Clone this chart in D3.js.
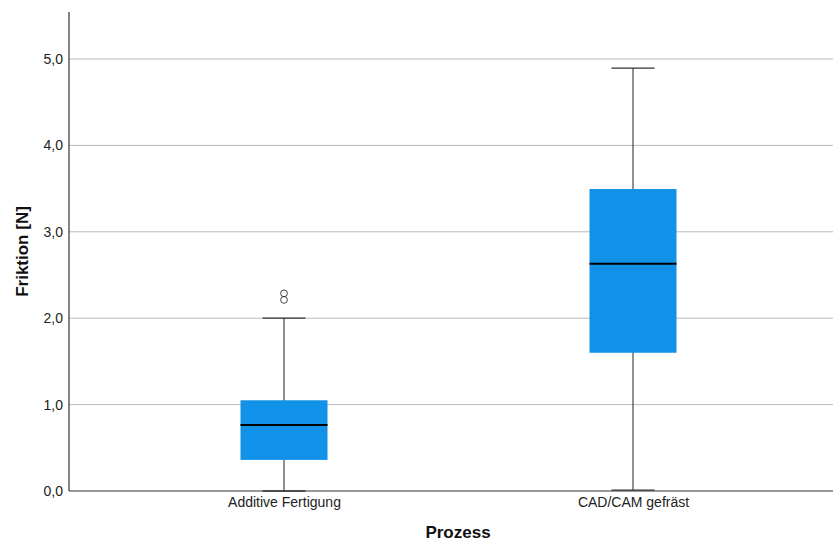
<!DOCTYPE html>
<html><head><meta charset="utf-8">
<script src="https://cdn.jsdelivr.net/npm/d3@7"></script>
<style>body{margin:0;background:#fff}svg{display:block}</style>
</head><body>
<script>
const categories = ["Additive Fertigung", "CAD/CAM gefräst"];
const whiskerLow = [0.0, 0.01];
const q1 = [0.36, 1.60];
const median = [0.765, 2.63];
const q3 = [1.05, 3.495];
const whiskerHigh = [2.0, 4.895];
const outliers = [[2.288, 2.212], []];
const yTicks = [0, 1, 2, 3, 4, 5];

const W = 834, H = 543;
const m = {left: 69, right: 1, top: 12, bottom: 52};
const svg = d3.select("body").append("svg").attr("width", W).attr("height", H);
const font = "'Liberation Sans', Arial, sans-serif";

const y = d3.scaleLinear().domain([0, 5.544]).range([H - m.bottom, m.top]);
const x = d3.scalePoint().domain(categories).range([284, 633]);
const boxW = 87, capW = 43;

// gridlines
svg.append("g").selectAll("line").data(yTicks.filter(d => d > 0)).join("line")
  .attr("x1", m.left).attr("x2", W - m.right)
  .attr("y1", d => y(d)).attr("y2", d => y(d))
  .attr("stroke", "#b8b8b8").attr("stroke-width", 1);

// y axis
const yAxis = svg.append("g").attr("transform", `translate(${m.left},0)`)
  .call(d3.axisLeft(y).tickValues(yTicks).tickSize(0).tickPadding(6)
    .tickFormat(d => d3.format(".1f")(d).replace(".", ",")));
yAxis.select(".domain").remove();
yAxis.selectAll("text").attr("font-family", font).attr("font-size", 14).attr("fill", "#222");

// x axis
const xAxis = svg.append("g").attr("transform", `translate(0,${y(0)})`)
  .call(d3.axisBottom(x).tickSize(0).tickPadding(6));
xAxis.select(".domain").remove();
xAxis.selectAll("text").attr("font-family", font).attr("font-size", 14).attr("fill", "#222");

const data = categories.map((c, i) => ({c, lo: whiskerLow[i], q1: q1[i], med: median[i], q3: q3[i], hi: whiskerHigh[i], out: outliers[i]}));
const g = svg.append("g").selectAll("g").data(data).join("g");

// whisker stems
g.append("line").attr("x1", d => x(d.c)).attr("x2", d => x(d.c))
  .attr("y1", d => y(d.hi)).attr("y2", d => y(d.lo))
  .attr("stroke", "#222").attr("stroke-width", 1);
// caps
g.each(function(d) {
  const s = d3.select(this);
  [d.lo, d.hi].forEach(v => s.append("line")
    .attr("x1", x(d.c) - capW / 2).attr("x2", x(d.c) + capW / 2)
    .attr("y1", y(v)).attr("y2", y(v))
    .attr("stroke", "#333").attr("stroke-width", 1.3));
});
// box
g.append("rect").attr("x", d => x(d.c) - boxW / 2).attr("width", boxW)
  .attr("y", d => y(d.q3)).attr("height", d => y(d.q1) - y(d.q3))
  .attr("fill", "#1192e8");
// median
g.append("line").attr("x1", d => x(d.c) - boxW / 2).attr("x2", d => x(d.c) + boxW / 2)
  .attr("y1", d => y(d.med)).attr("y2", d => y(d.med))
  .attr("stroke", "#000").attr("stroke-width", 2);
// outliers
g.selectAll("circle").data(d => d.out.map(v => ({c: d.c, v}))).join("circle")
  .attr("cx", d => x(d.c)).attr("cy", d => y(d.v)).attr("r", 3.4)
  .attr("fill", "none").attr("stroke", "#333").attr("stroke-width", 0.9);

// axis lines
svg.append("line").attr("x1", m.left).attr("x2", m.left).attr("y1", m.top).attr("y2", y(0))
  .attr("stroke", "#333").attr("stroke-width", 1.2);
svg.append("line").attr("x1", m.left).attr("x2", W - m.right).attr("y1", y(0)).attr("y2", y(0))
  .attr("stroke", "#333").attr("stroke-width", 1.2);

// titles
svg.append("text").attr("x", 458).attr("y", 538).attr("text-anchor", "middle")
  .attr("font-family", font).attr("font-size", 17).attr("font-weight", "bold").attr("fill", "#111")
  .text("Prozess");
svg.append("text").attr("transform", `translate(28,${(m.top + y(0)) / 2}) rotate(-90)`)
  .attr("text-anchor", "middle")
  .attr("font-family", font).attr("font-size", 17).attr("font-weight", "bold").attr("fill", "#111")
  .text("Friktion [N]");
</script>
</body></html>
